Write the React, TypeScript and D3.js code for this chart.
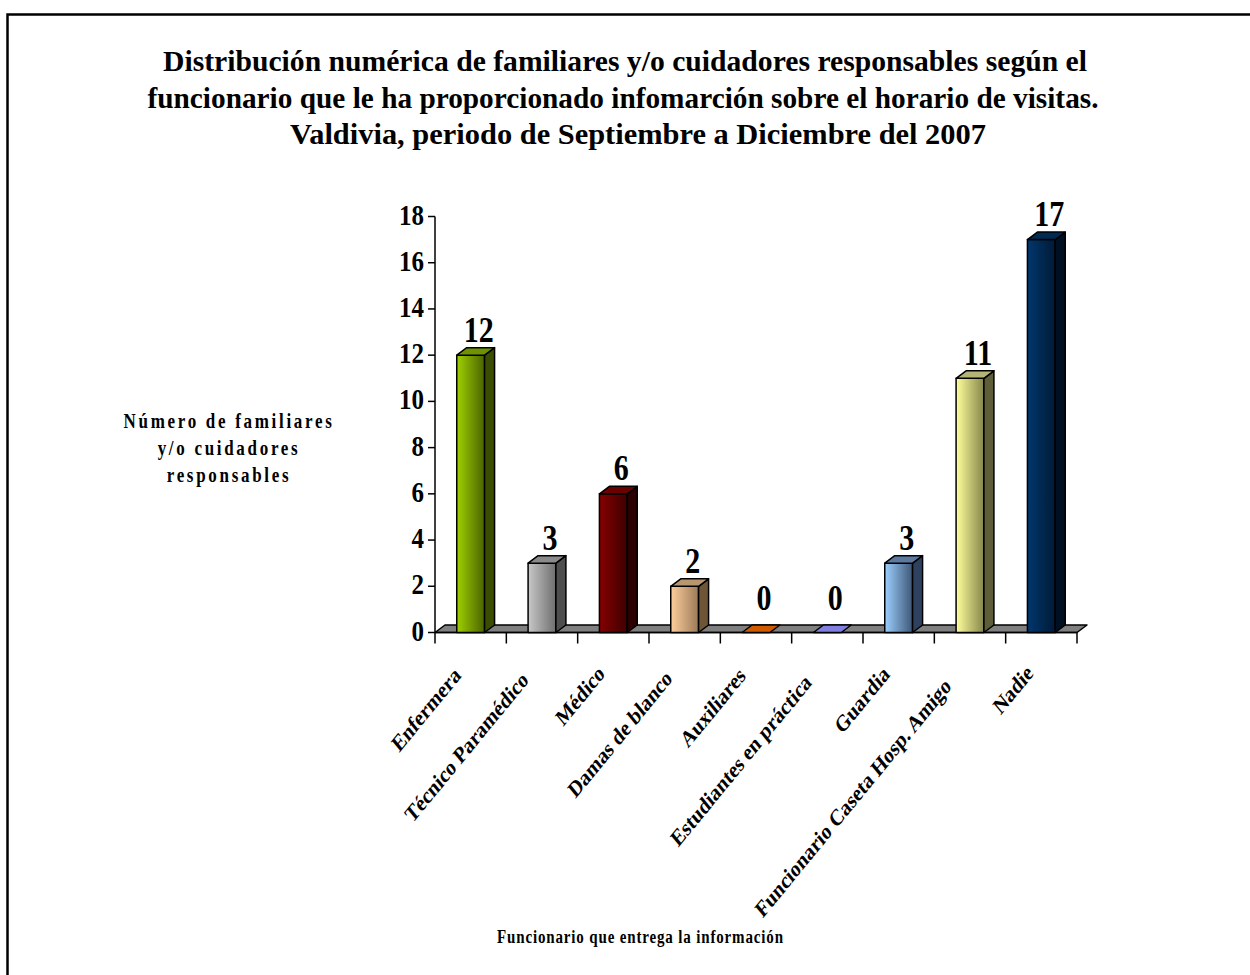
import React from "react";
import * as d3 from "d3";

// Categories and counts
const categories = [
  "Enfermera",
  "Técnico Paramédico",
  "Médico",
  "Damas de blanco",
  "Auxiliares",
  "Estudiantes en práctica",
  "Guardia",
  "Funcionario Caseta Hosp. Amigo",
  "Nadie",
];
const values = [12, 3, 6, 2, 0, 0, 3, 11, 17];

// Face colours per bar: [front light, front dark, side, top]
const barColors: [string, string, string, string][] = [
  ["#9fd000", "#4a6300", "#3a4d00", "#6f9200"],
  ["#c8c8c8", "#6e6e6e", "#4e4e4e", "#8a8a8a"],
  ["#860000", "#3e0000", "#2a0000", "#6a0000"],
  ["#ffcf9c", "#9a7a58", "#6e5538", "#b89670"],
  ["#d05a00", "#a84600", "#7a3300", "#c85400"],
  ["#8080e0", "#5a5ab8", "#44448a", "#7c7cd8"],
  ["#9cd0ff", "#3e5676", "#2e4260", "#5c7aa0"],
  ["#ffff9c", "#86864c", "#5e5e38", "#b4b476"],
  ["#00376e", "#001a36", "#000f22", "#002a52"],
];

const yTicks = [0, 2, 4, 6, 8, 10, 12, 14, 16, 18];

const titleLines = [
  "Distribución numérica de familiares y/o cuidadores responsables según el",
  "funcionario que le ha proporcionado infomarción sobre el horario de visitas.",
  "Valdivia, periodo de Septiembre a Diciembre del 2007",
];
const yTitleLines = ["Número de familiares", "y/o cuidadores", "responsables"];
const xTitle = "Funcionario que entrega la información";

const W = 1250;
const H = 975;
const FONT = "'Liberation Serif', 'Times New Roman', Times, serif";
// text in this chart is drawn slightly taller than wide
const SY = 1.22;

type TxtProps = React.SVGProps<SVGTextElement> & { x: number; y: number; rot?: number };

function Txt({ x, y, rot, children, ...rest }: TxtProps) {
  return (
    <g transform={`translate(${x},${y}) scale(1,${SY})${rot ? ` rotate(${rot})` : ""}`}>
      <text x={0} y={0} {...rest}>
        {children}
      </text>
    </g>
  );
}

export default function App() {
  const plotLeft = 435;
  const plotRight = 1077;
  const y0 = 632.5;
  const yTop = 216.5;
  const depthX = 10;
  const depthY = -7.5;

  const x = d3.scaleBand<string>().domain(categories).range([plotLeft, plotRight]).padding(0);
  const y = d3.scaleLinear().domain([0, 18]).range([y0, yTop]);
  const step = x.step();
  const barW = step * 0.39;

  const floor = [
    [plotLeft, y0],
    [plotLeft + depthX, y0 + depthY],
    [plotRight + depthX, y0 + depthY],
    [plotRight, y0],
  ];
  const pts = (p: number[][]) => p.map((q) => q.join(",")).join(" ");

  return (
    <svg
      width={W}
      height={H}
      style={{ position: "absolute", left: 0, top: 0, display: "block", background: "#fff", fontFamily: FONT }}
    >
      <defs>
        {barColors.map((c, i) => (
          <linearGradient key={i} id={`front${i}`} x1="0" x2="1" y1="0" y2="0">
            <stop offset="0" stopColor={c[0]} />
            <stop offset="1" stopColor={c[1]} />
          </linearGradient>
        ))}
      </defs>

      {/* chart border */}
      <rect x={7.5} y={14.5} width={W + 40} height={H + 40} fill="none" stroke="#000" strokeWidth={2.5} />

      {/* title */}
      <g fontWeight="bold" fontSize={25} textAnchor="middle" fill="#000">
        {titleLines.map((t, i) => (
          <Txt
            key={i}
            x={[625, 623, 638][i]}
            y={71 + i * 36.5}
            textLength={[924, 951, 696][i]}
            lengthAdjust="spacingAndGlyphs"
          >
            {t}
          </Txt>
        ))}
      </g>

      {/* y axis title */}
      <g fontWeight="bold" fontSize={17} textAnchor="middle" letterSpacing={2.7}>
        {yTitleLines.map((t, i) => (
          <Txt key={i} x={229} y={428 + i * 27}>
            {t}
          </Txt>
        ))}
      </g>

      {/* floor */}
      <polygon points={pts(floor)} fill="#808080" stroke="#000" strokeWidth={1.5} strokeLinejoin="round" />

      {/* y axis */}
      <line x1={plotLeft} x2={plotLeft} y1={yTop} y2={y0} stroke="#000" strokeWidth={1.5} />
      {yTicks.map((t) => (
        <g key={t}>
          <line x1={plotLeft - 7} x2={plotLeft} y1={y(t)} y2={y(t)} stroke="#000" strokeWidth={1.5} />
          <Txt x={plotLeft - 11} y={y(t) + 8} textAnchor="end" fontWeight="bold" fontSize={25}>
            {t}
          </Txt>
        </g>
      ))}

      {/* category axis */}
      <line x1={plotLeft} x2={plotRight} y1={y0} y2={y0} stroke="#000" strokeWidth={1.5} />
      {categories.concat(["__end"]).map((c, i) => {
        const tx = plotLeft + i * step;
        return <line key={c} x1={tx} x2={tx} y1={y0} y2={y0 + 11} stroke="#000" strokeWidth={1.5} />;
      })}

      {/* bars */}
      {categories.map((c, i) => {
        const v = values[i];
        const bx = (x(c) as number) + (step - barW) / 2;
        const top = y(v);
        const col = barColors[i];
        const topFace = [
          [bx, top],
          [bx + depthX, top + depthY],
          [bx + barW + depthX, top + depthY],
          [bx + barW, top],
        ];
        const side = [
          [bx + barW, top],
          [bx + barW + depthX, top + depthY],
          [bx + barW + depthX, y0 + depthY],
          [bx + barW, y0],
        ];
        return (
          <g key={c} stroke="#000" strokeWidth={1.5} strokeLinejoin="round">
            {v > 0 ? (
              <>
                <rect x={bx} y={top} width={barW} height={y0 - top} fill={`url(#front${i})`} />
                <polygon points={pts(side)} fill={col[2]} />
                <polygon points={pts(topFace)} fill={col[3]} />
              </>
            ) : (
              <polygon points={pts(topFace)} fill={col[0]} />
            )}
            <Txt
              x={bx + barW / 2 + 8}
              y={top + depthY - (v === 0 ? 15 : 6)}
              textAnchor="middle"
              fontWeight="bold"
              fontSize={30}
              stroke="none"
              fill="#000"
            >
              {v}
            </Txt>
          </g>
        );
      })}

      {/* category labels: longer labels sit a little further down their diagonal */}
      <g fontWeight="bold" fontSize={19} textAnchor="end">
        {categories.map((c) => {
          const cx = (x(c) as number) + step / 2;
          return (
            <Txt key={c} x={cx - 5} y={672} rot={-45} dx={-0.6 * c.length}>
              {c}
            </Txt>
          );
        })}
      </g>

      {/* x axis title */}
      <Txt
        x={640}
        y={943}
        textAnchor="middle"
        fontWeight="bold"
        fontSize={15}
        textLength={286}
        lengthAdjust="spacing"
      >
        {xTitle}
      </Txt>
    </svg>
  );
}
